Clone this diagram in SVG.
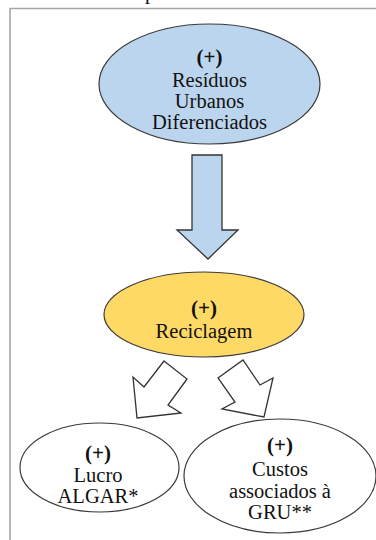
<svg xmlns="http://www.w3.org/2000/svg" width="376" height="540" viewBox="0 0 376 540">
<style>
.frame{fill:none;stroke:#a6a6a6;stroke-width:1.6}
.node{stroke:#3a3a3a;stroke-width:1.2}
.blue{fill:#bcd5ee}
.yellow{fill:#ffd966}
.white{fill:#ffffff}
text{font-family:'Liberation Serif','Times New Roman',Tinos,'Noto Serif','Nimbus Roman','FreeSerif','DejaVu Serif',serif;font-size:20.5px;fill:#111;text-anchor:middle}
.plus{font-weight:bold;font-size:21px}
.arrow{stroke:#333;stroke-width:1.3;stroke-linejoin:miter}
</style>
<rect width="376" height="540" fill="#ffffff"/>
<text x="150" y="-1">p</text>
<path class="frame" d="M10,540 V8.5 H376"/>
<g id="connectors">
<polygon class="arrow blue" points="192,155 222,155 222,230 238,230 208,259 177,230 192,230" stroke-width="1"/>
<polygon class="arrow white" points="164,361 187,379 168,405 181,413 137,418 133,377 144,387"/>
<polygon class="arrow white" points="218,378 243,360 260,385 273,378 264,417 222,409 235,402"/>
</g>
<g id="residuos">
<ellipse class="node blue" cx="209.5" cy="84" rx="110.5" ry="60"/>
<text class="plus" x="209.5" y="64">(+)</text>
<text x="209.5" y="86.5">Resíduos</text>
<text x="209.5" y="107.5">Urbanos</text>
<text x="209.5" y="128.5">Diferenciados</text>
</g>
<g id="reciclagem">
<ellipse class="node yellow" cx="204" cy="314.5" rx="100" ry="42.5"/>
<text class="plus" x="204" y="315">(+)</text>
<text x="204" y="338">Reciclagem</text>
</g>
<g id="lucro">
<ellipse class="node white" cx="99.5" cy="467.5" rx="79.5" ry="44.5"/>
<text class="plus" x="98" y="460">(+)</text>
<text x="98" y="482">Lucro</text>
<text x="98" y="503">ALGAR*</text>
</g>
<g id="custos">
<ellipse class="node white" cx="280" cy="476" rx="96" ry="57"/>
<text class="plus" x="280" y="452">(+)</text>
<text x="280" y="476">Custos</text>
<text x="280" y="497.5">associados à</text>
<text x="280" y="518.5">GRU**</text>
</g>
</svg>
